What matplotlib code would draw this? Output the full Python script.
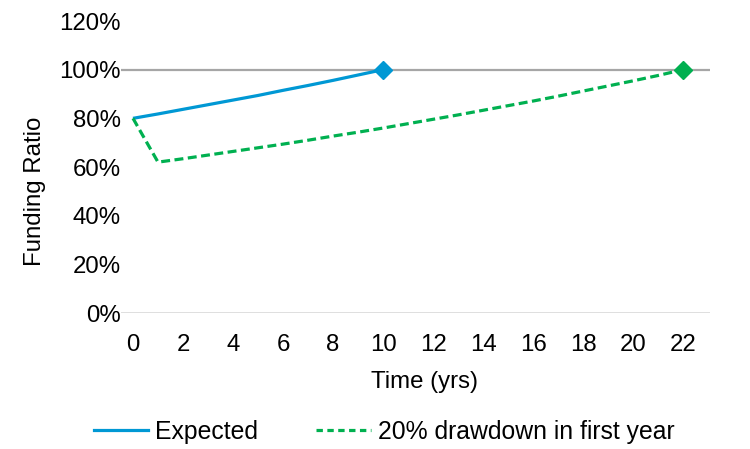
import matplotlib
matplotlib.use("Agg")
import matplotlib.pyplot as plt
from matplotlib.lines import Line2D

plt.rcParams['font.family'] = ['Liberation Sans', 'DejaVu Sans']

years_expected = list(range(0, 11))
expected = [80, 81.8, 83.7, 85.6, 87.5, 89.4, 91.5, 93.5, 95.6, 97.8, 100]

years_drawdown = list(range(0, 23))
drawdown = [80, 62, 63.4, 64.9, 66.4, 67.9, 69.4, 71.0, 72.7, 74.3, 76.0,
            77.8, 79.6, 81.4, 83.3, 85.2, 87.1, 89.1, 91.2, 93.3, 95.4, 97.6, 100]

xticks = list(range(0, 23, 2))
yticks = [0, 20, 40, 60, 80, 100, 120]

blue = '#0098D4'
green = '#00B050'
FS = 17.3
LW = 2.3
DASH = (0, (2.8, 1.4))

fig = plt.figure(figsize=(7.5, 4.49), dpi=100)
ax = fig.add_axes([121/750, 136/449, (710-121)/750, (313-21)/449])

ax.axhline(100, color='#A6A6A6', lw=1.6, zorder=1)
ax.axhline(0, color='#D9D9D9', lw=1.2, zorder=1)

ax.plot(years_expected, expected, color=blue, lw=LW, zorder=3, solid_capstyle='butt')
ax.plot(years_expected[-1], expected[-1], marker='D', color=blue, ms=9.5, zorder=4)
ax.plot(years_drawdown, drawdown, color=green, lw=LW, ls=DASH, zorder=3)
ax.plot(years_drawdown[-1], drawdown[-1], marker='D', color=green, ms=9.5, zorder=4)

ax.set_xlim(-0.48, 23.08)
ax.set_ylim(0, 120)
ax.set_xticks(xticks)
ax.set_xticklabels([str(t) for t in xticks])
ax.set_yticks(yticks)
ax.set_yticklabels([f"{t}%" for t in yticks])
ax.tick_params(axis='both', length=0, labelsize=FS, colors='#000000')
ax.tick_params(axis='x', pad=15)
ax.tick_params(axis='y', pad=0)
for s in ax.spines.values():
    s.set_visible(False)

ax.set_ylabel('Funding Ratio', fontsize=FS)
ax.yaxis.set_label_coords(-0.128, 0.418)
ax.set_xlabel('Time (yrs)', fontsize=FS)
ax.xaxis.set_label_coords(0.515, -0.197)

handles = [Line2D([], [], color=blue, lw=LW),
           Line2D([], [], color=green, lw=LW, ls=(0, (2.0, 1.4)))]
fig.legend(handles, ['Expected', '20% drawdown in first year'],
           loc='center', bbox_to_anchor=(0.512, (449-432)/449),
           ncol=2, frameon=False, fontsize=17.8, handlelength=2.2,
           handletextpad=0.29, columnspacing=2.35)

fig.savefig('out.png', dpi=100)
